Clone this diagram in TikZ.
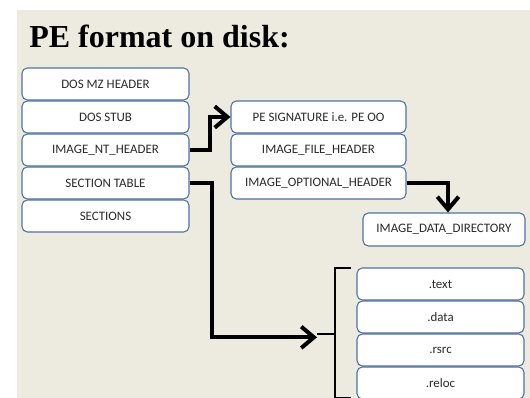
\documentclass[tikz,border=0pt]{standalone}
\usepackage{fontspec}
\setmainfont{Liberation Serif}
\newfontfamily\boxfont{Carlito}
\usetikzlibrary{arrows.meta}
\definecolor{slide}{HTML}{EDEBE0}
\definecolor{boxline}{HTML}{4F71A3}
\definecolor{boxtext}{HTML}{2A2A2A}
\tikzset{
  x=0.75pt, y=-0.75pt,
  field/.style={draw=boxline, line width=0.8pt, fill=white, rounded corners=4pt,
    text=boxtext, font=\boxfont\fontsize{9.7}{11}\selectfont,
    minimum height=24pt, inner sep=0pt},
  leftcol/.style={field, minimum width=125.25pt},
  midcol/.style={field, minimum width=131.25pt},
  seccol/.style={field, minimum width=125.25pt},
  link/.style={line width=3pt, -{Straight Barb[length=9.5pt,width=16pt]}},
  brace/.style={line width=1.2pt}
}
\begin{document}
\begin{tikzpicture}
  % page and slide background
  \useasboundingbox (0,0) rectangle (530,398);
  \clip (0,0) rectangle (530,398);
  \fill[white] (0,0) rectangle (530,398);
  \fill[slide] (16.5,10) rectangle (530,398);

  % title
  \node[anchor=base west, inner sep=0pt, font=\bfseries\fontsize{24}{28}\selectfont]
    (title) at (29,48) {PE format on disk:};

  % file layout
  \node[leftcol] (mz)   at (105.5,84)  {DOS MZ HEADER};
  \node[leftcol] (stub) at (105.5,117) {DOS STUB};
  \node[leftcol] (nt)   at (105.5,150) {IMAGE\_NT\_HEADER};
  \node[leftcol] (st)   at (105.5,183) {SECTION TABLE};
  \node[leftcol] (secs) at (105.5,216) {SECTIONS};

  % NT header contents
  \node[midcol] (sig) at (318.5,117) {PE SIGNATURE i.e. PE OO};
  \node[midcol] (fh)  at (318.5,150) {IMAGE\_FILE\_HEADER};
  \node[midcol] (opt) at (318.5,183) {IMAGE\_OPTIONAL\_HEADER};

  % data directory
  \node[field, minimum width=121.5pt, minimum height=24.75pt] (idd) at (444,229.5)
    {IMAGE\_DATA\_DIRECTORY};

  % section list
  \node[seccol] (text)  at (440.5,284) {.text};
  \node[seccol] (data)  at (440.5,317) {.data};
  \node[seccol] (rsrc)  at (440.5,350) {.rsrc};
  \node[seccol] (reloc) at (440.5,383) {.reloc};

  % bracket grouping the sections
  \coordinate (btop) at (351,268);
  \coordinate (bmid) at (317,334);
  \coordinate (bbot) at (351,398);
  \draw[brace] (btop) -- (335,268) -- (335,398) -- (bbot);
  \draw[brace] (bmid) -- (335,334);

  % connectors
  \draw[link] (nt.east) -- ++(20,0) |- (sig.west);
  \draw[link] (st.east) -- ++(22,0) |- ([yshift=-2.5pt]bmid);
  \draw[link] (opt.east) -| ([xshift=3pt]idd.north);
\end{tikzpicture}
\end{document}
